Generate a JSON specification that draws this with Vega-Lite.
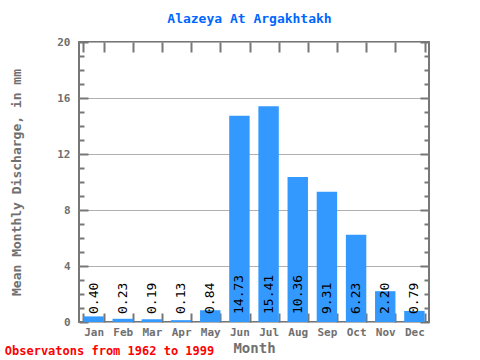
{
  "$schema": "https://vega.github.io/schema/vega-lite/v6.json",
  "width": 350,
  "height": 280,
  "autosize": {"type": "none"},
  "padding": {"left": 79, "top": 42, "right": 51, "bottom": 38},
  "background": "white",
  "title": {
    "text": "Observatons from 1962 to 1999",
    "orient": "bottom",
    "anchor": "start",
    "frame": "bounds",
    "color": "#ff0000",
    "font": "DejaVu Sans Mono",
    "fontSize": 12,
    "fontWeight": "bold",
    "offset": -9,
    "dx": -6
  },
  "config": {
    "view": {"stroke": "#777777", "strokeWidth": 2},
    "axis": {
      "domain": false,
      "labelFont": "DejaVu Sans Mono",
      "labelFontWeight": "bold",
      "labelColor": "#707070",
      "labelFontSize": 11,
      "titleFont": "DejaVu Sans Mono",
      "titleFontWeight": "bold",
      "titleColor": "#707070",
      "tickColor": "#777777",
      "tickWidth": 2
    }
  },
  "data": {
    "values": [
      {"month": "Jan", "value": 0.40},
      {"month": "Feb", "value": 0.23},
      {"month": "Mar", "value": 0.19},
      {"month": "Apr", "value": 0.13},
      {"month": "May", "value": 0.84},
      {"month": "Jun", "value": 14.73},
      {"month": "Jul", "value": 15.41},
      {"month": "Aug", "value": 10.36},
      {"month": "Sep", "value": 9.31},
      {"month": "Oct", "value": 6.23},
      {"month": "Nov", "value": 2.20},
      {"month": "Dec", "value": 0.79}
    ]
  },
  "layer": [
    {
      "mark": {"type": "bar", "color": "#3399ff"},
      "encoding": {
        "x": {
          "field": "month", "type": "nominal", "sort": null,
          "scale": {"paddingInner": 0.3, "paddingOuter": 0.15},
          "axis": {
            "orient": "bottom",
            "title": "Month",
            "titleFontSize": 14,
            "titlePadding": 4,
            "labelAngle": 0,
            "labelPadding": 13,
            "tickBand": "extent",
            "tickSize": -9,
            "grid": false
          }
        },
        "y": {
          "field": "value", "type": "quantitative",
          "scale": {"domain": [0, 20], "nice": false},
          "axis": {
            "orient": "left",
            "title": "Mean Monthly Discharge, in mm",
            "titleFontSize": 13,
            "titlePadding": 33,
            "values": [0,1,2,3,4,5,6,7,8,9,10,11,12,13,14,15,16,17,18,19,20],
            "labelExpr": "datum.value % 4 === 0 ? datum.label : ''",
            "labelPadding": 18,
            "tickSize": {"condition": {"test": "datum.value % 4 === 0", "value": -9}, "value": -5},
            "grid": true,
            "gridColor": "#b0b0b0",
            "gridOpacity": {"condition": {"test": "datum.value % 4 === 0", "value": 1}, "value": 0}
          }
        }
      }
    },
    {
      "mark": {
        "type": "text",
        "angle": 270,
        "align": "left",
        "baseline": "middle",
        "dx": 8,
        "font": "DejaVu Sans Mono",
        "fontSize": 13,
        "color": "black"
      },
      "encoding": {
        "x": {
          "field": "month", "type": "nominal", "sort": null,
          "axis": {
            "orient": "top",
            "title": "Alazeya At Argakhtakh",
            "titleColor": "#0066ff",
            "titleFontSize": 13,
            "titlePadding": 16,
            "titleX": 170,
            "labels": false,
            "tickBand": "extent",
            "tickSize": -10,
            "grid": false
          }
        },
        "y": {
          "datum": 0, "type": "quantitative",
          "axis": {
            "orient": "right",
            "title": null,
            "labels": false,
            "values": [0,1,2,3,4,5,6,7,8,9,10,11,12,13,14,15,16,17,18,19,20],
            "tickSize": {"condition": {"test": "datum.value % 4 === 0", "value": -9}, "value": -5},
            "grid": false
          }
        },
        "text": {"field": "value", "type": "quantitative", "format": ".2f"}
      }
    }
  ],
  "resolve": {"axis": {"x": "independent", "y": "independent"}}
}
